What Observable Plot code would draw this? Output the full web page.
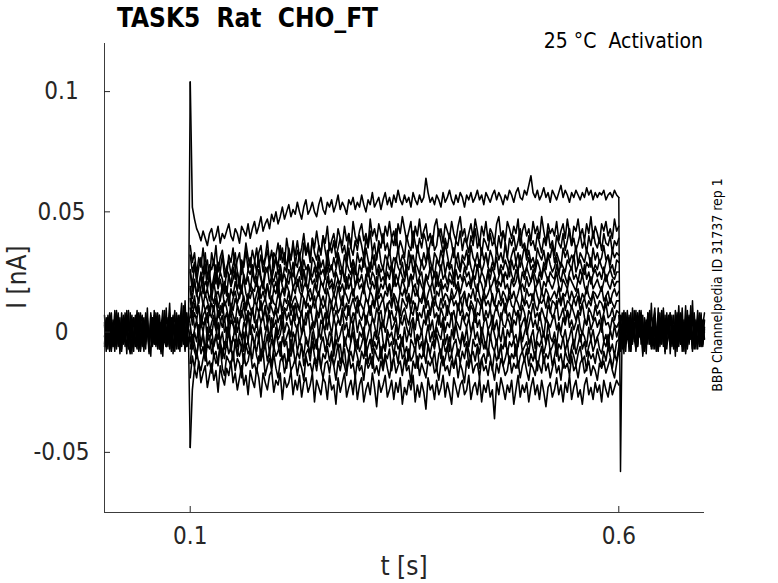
<!DOCTYPE html>
<html>
<head>
<meta charset="utf-8">
<script src="https://cdn.jsdelivr.net/npm/d3@7"></script>
<script src="https://cdn.jsdelivr.net/npm/@observablehq/plot@0.6"></script>
<style>
  html, body { margin: 0; padding: 0; background: #fff; }
  svg text { font-family: "DejaVu Sans Condensed", "DejaVu Sans", sans-serif; font-stretch: condensed; }
</style>
</head>
<body>
<div id="chart"></div>
<script>
// ---- texts ----
const titleText = "TASK5  Rat  CHO_FT";
const noteText = "25 °C  Activation";
const sideText = "BBP Channelpedia ID 31737 rep 1";
const xLabel = "t [s]";
const yLabel = "I [nA]";
const xTicks = [0.1, 0.6];
const yTicks = [-0.05, 0, 0.05, 0.1];
const xDomain = [0, 0.7];
const yDomain = [-0.075, 0.12];
// segment time spans (s): holding, step, tail
const preSpan = [0, 0.1];
const stimSpan = [0.1, 0.6];
const postSpan = [0.6, 0.7];

// ---- current values in pA ----
// holding segment 0–0.1 s
const preA = [4,-6,7,-3,-8,5,-1,-7,6,-4, 8,-5,3,-9,5,-2,7,-6,1,9, -4,-8,4,6,-5,2,-7,8,-3,5, -6,1,7,-8,4,-4,10,-5,3,-7, 6,-2,8,-6,4,-4,11,-5,5,2, 104];
const preB = [-5,6,-2,8,-7,3,-4,9,-6,2, -8,5,-1,7,-5,-9,4,6,-3,-7, 8,2,-6,5,-4,10,-8,1,6,-5, 4,-7,7,-2,-10,5,2,-6,8,-4, 1,9,-7,4,-5,7,-2,13,-6,-3, -48];
const preC = [7,-4,1,-8,5,-6,8,2,-5,6, -7,4,-2,9,-6,1,5,-8,7,-4, 3,-7,6,-5,8,1,-9,4,-2,7, -5,5,-7,2,9,-4,-6,6,1,-8, 5,-2,7,-7,4,12,-5,2,-6,8, 3];
const preD = [-2,5,-7,4,8,-5,2,-6,6,-9, 1,7,-4,5,-7,8,-2,-5,6,2, -8,4,7,-6,1,5,-4,-10,6,2, -5,8,-2,4,-7,6,-6,1,12,-4, 5,-8,2,7,-5,-2,6,-7,8,1, -4];
const preE = [3,-8,6,-2,4,-6,9,-3,1,-7, 5,-4,8,-1,-6,3,-9,6,2,-5, 7,-3,0,-8,5,3,-6,7,-2,-5, 8,-1,-7,4,-3,9,-6,2,-4,6, -9,3,5,-3,7,-6,1,-8,4,-5, 0];
const preF = [-6,2,-3,7,-5,4,-8,3,8,-2, -4,6,-6,2,9,-7,3,-1,-6,5, -2,8,-5,1,-7,6,-3,4,-6,9, -1,-4,3,-9,6,0,-3,5,-7,2, 7,-5,-1,4,-8,5,-3,9,-2,-6, 1];

// step segment 0.1–0.6 s, one array per sweep
const s01 = [104,52,47,43,41,38,42,39,36,41, 43,38,40,44,37,41,39,42,45,40, 38,43,41,37,44,42,40,45,39,43, 46,41,44,48,42,45,47,43,49,46,
 50,45,48,52,47,50,53,48,51,49, 54,50,47,52,55,49,51,54,50,48, 53,56,51,49,54,52,55,50,53,57, 51,54,52,49,55,53,56,51,54,52,
 57,53,50,55,53,58,52,54,56,51, 55,58,53,56,52,57,54,59,55,53, 57,54,56,52,58,55,53,57,54,56, 64,58,54,56,53,57,55,52,58,54,
 56,59,55,53,57,54,58,56,52,57, 55,58,54,56,59,55,57,53,58,56, 54,57,59,55,58,56,53,57,55,59, 57,54,58,60,56,55,59,57,61,65,
 58,56,59,55,57,60,56,58,54,59, 57,55,58,61,56,59,57,54,58,56, 59,57,55,58,56,60,57,59,55,58, 56,58,57,59,55,57,58,56,59,57, 56];
const s02 = [36,29,33,24,31,27,35,26,30,22, 33,28,36,25,31,34,27,23,32,29, 35,26,30,33,24,29,37,31,27,34, 30,25,33,36,28,31,38,29,34,27,
 32,37,30,35,28,39,33,30,36,32, 38,31,35,41,33,37,30,39,35,42, 36,33,40,37,44,34,38,41,35,43, 39,36,44,38,41,35,46,40,37,42,
 45,38,41,36,47,40,43,38,45,41, 37,44,40,46,39,42,36,45,41,48, 43,38,42,46,35,44,40,47,39,42, 45,38,41,36,44,47,40,43,37,45,
 42,39,46,41,38,44,48,40,43,37, 41,45,39,47,42,36,44,40,46,38, 43,41,37,45,48,40,42,38,46,43, 39,44,41,47,36,42,45,40,43,38,
 46,41,44,39,48,42,37,45,41,43, 40,46,38,42,45,39,47,41,36,44, 42,47,40,43,38,45,41,48,39,44, 41,37,45,42,46,40,43,39,47,42, 44];
const s03 = [32,25,29,21,27,31,24,33,22,28, 26,30,20,29,25,32,23,27,30,24, 28,33,25,21,30,27,34,26,31,24, 29,35,27,32,25,30,34,28,23,33,
 31,27,36,29,33,26,35,30,38,28, 34,31,27,37,32,35,29,39,33,30, 36,32,40,34,29,37,33,38,31,35, 39,33,36,30,41,35,32,38,34,40,
 36,31,39,35,42,33,37,30,38,35, 41,34,37,32,39,36,43,33,38,35, 31,40,36,34,42,37,33,39,35,41, 38,32,37,40,34,36,43,38,33,39,
 35,41,37,31,38,36,42,34,39,37, 33,40,36,43,35,38,32,39,37,34, 41,36,38,33,40,35,42,37,31,39, 36,40,34,38,43,35,37,32,40,36,
 38,34,41,37,33,39,36,42,35,38, 32,40,37,35,41,34,38,43,36,39, 34,37,41,35,38,33,40,36,42,37, 35,39,34,41,37,36,40,33,38,36, 39];
const s04 = [26,19,28,22,17,25,21,27,18,24, 18,23,28,20,25,22,17,26,24,19, 27,22,25,18,29,23,20,26,24,28, 21,25,30,23,19,27,25,29,22,26,
 31,24,28,21,27,25,32,26,23,29, 27,33,24,30,26,28,22,31,29,25, 32,27,30,24,34,28,26,31,27,33, 29,25,32,28,35,27,30,24,33,29,
 31,27,35,30,25,33,28,31,36,29, 26,32,30,34,27,31,29,35,28,32, 30,25,34,29,32,27,36,31,28,33, 29,35,30,26,33,31,28,34,30,37,
 32,27,31,35,29,33,26,32,30,34, 28,36,31,29,33,27,35,30,32,28, 34,31,26,35,30,33,29,37,31,28, 32,35,29,33,27,31,36,30,34,29,
 31,27,35,32,30,34,28,33,31,36, 29,33,30,27,35,31,34,29,32,30, 36,28,33,31,29,34,32,27,35,30, 33,29,31,36,30,32,28,34,31,33, 32];
const s05 = [25,17,22,15,20,24,16,21,19,23, 14,20,25,18,22,17,21,15,24,19, 22,26,18,21,16,24,20,23,17,25, 21,19,26,22,18,24,27,20,23,21,
 25,19,28,22,24,20,26,23,29,21, 24,27,22,26,19,28,25,23,27,21, 29,24,26,22,30,25,28,23,26,31, 24,27,21,29,26,24,30,27,22,28,
 25,31,27,23,29,26,32,24,28,25, 27,22,30,26,28,24,31,27,25,29, 23,28,26,32,25,29,27,24,30,26, 28,33,25,27,23,30,28,26,31,24,
 29,26,28,22,31,27,25,30,28,26, 32,27,24,29,26,30,25,28,33,27, 25,29,27,31,24,28,26,30,27,23, 30,26,29,25,32,28,24,27,31,26,
 28,25,30,27,23,29,26,32,28,25, 27,31,24,29,27,25,30,28,26,32, 25,28,30,26,24,29,27,31,25,28, 26,30,27,25,29,32,26,28,24,30, 29];
const s06 = [19,14,21,16,12,19,22,15,18,13, 18,21,15,17,13,20,16,19,11,18, 15,21,17,14,19,22,16,13,20,18, 17,23,15,19,21,16,20,14,22,18,
 21,16,24,19,17,22,20,25,18,21, 19,23,17,26,21,18,24,20,22,17, 25,21,19,23,27,20,22,18,25,22, 20,26,23,18,24,21,27,19,23,21,
 24,19,22,27,20,25,23,18,26,21, 23,20,25,22,28,19,24,21,26,23, 21,26,19,24,22,27,20,23,25,18, 24,22,27,21,25,19,23,28,22,24,
 20,25,23,19,26,22,24,21,27,23, 25,20,24,22,28,21,25,23,19,26, 22,27,24,20,23,26,21,25,22,28, 24,21,26,23,19,25,22,27,24,21,
 26,23,20,25,22,27,24,21,25,23, 22,28,24,21,26,23,20,25,27,22, 24,21,26,23,28,22,25,20,24,26, 23,25,22,27,21,24,26,23,22,25, 25];
const s07 = [18,10,15,8,14,17,11,16,13,9, 15,12,17,10,14,18,11,13,16,9, 14,17,12,15,19,13,11,16,14,18, 12,16,19,14,17,13,20,15,12,18,
 16,21,14,18,15,20,17,13,19,16, 22,17,15,19,21,16,18,14,20,17, 15,21,19,16,23,18,20,15,19,22, 17,20,16,23,18,21,15,19,22,18,
 20,16,24,19,17,21,18,23,16,20, 18,22,17,20,15,24,19,21,17,22, 19,16,21,24,18,20,15,22,19,17, 23,20,18,21,16,25,19,22,18,20,
 17,22,20,24,18,21,16,20,23,19, 21,18,24,19,17,22,20,16,21,25, 18,20,23,17,21,19,24,18,20,16, 22,19,21,25,18,20,17,23,19,21,
 24,18,20,22,16,21,19,23,20,18, 21,25,19,17,22,20,18,23,21,19, 17,22,20,24,19,16,21,23,18,20, 22,19,17,21,24,20,18,22,19,21, 21];
const s08 = [14,6,12,8,10,4,13,9,11,7, 12,9,14,6,11,8,13,10,5,12, 9,14,11,7,12,15,9,13,10,8, 13,11,16,9,12,14,10,8,15,12,
 11,16,13,9,14,12,17,10,13,15, 12,9,16,14,11,17,13,15,10,14, 17,12,15,11,18,14,12,16,13,19, 14,11,17,15,12,16,18,13,15,11,
 16,19,14,12,17,15,11,18,14,16, 13,17,15,20,12,16,14,11,17,15, 18,13,16,12,19,15,17,13,14,18, 12,16,19,14,11,17,15,20,13,16,
 15,12,18,14,16,19,13,15,17,11, 16,14,18,13,20,15,12,17,14,16, 19,14,11,16,18,13,17,15,12,18, 14,17,13,16,20,14,12,18,15,16,
 13,19,15,12,17,14,18,16,13,15, 17,14,19,12,16,15,18,13,17,14, 15,18,12,16,14,19,15,13,17,16, 14,16,19,13,15,17,12,16,18,15, 17];
const s09 = [10,3,8,5,11,2,7,9,4,8, 6,11,3,9,7,12,5,8,2,10, 7,4,11,8,6,12,5,9,7,10, 4,11,8,13,6,9,5,12,10,7,
 11,8,14,6,10,9,13,7,11,5, 12,9,7,14,10,12,8,11,15,9, 7,13,10,12,6,14,11,9,13,8, 10,15,9,12,7,11,14,10,8,13,
 11,9,14,12,7,13,10,16,9,12, 14,8,11,13,10,15,9,12,7,14, 12,10,15,8,13,11,9,14,12,16, 10,13,8,12,15,11,9,14,10,13,
 7,12,15,11,13,9,14,10,16,12, 9,13,11,8,14,12,10,15,11,13, 10,16,12,9,13,11,14,8,12,15, 11,10,14,12,9,15,11,13,10,12,
 16,11,9,13,12,14,10,15,8,13, 12,10,14,11,16,9,13,12,10,14, 11,15,9,12,14,10,13,11,16,12, 10,13,12,9,15,11,14,12,10,13, 13];
const s10 = [6,9,2,4,-1,7,3,5,8,0, 4,7,1,9,5,2,6,-2,5,8, 3,6,0,4,9,6,1,7,3,10, 5,2,8,4,6,11,3,7,0,6,
 9,4,7,2,10,5,8,3,6,12, 7,4,9,2,8,6,11,5,3,9, 6,10,4,8,1,7,12,5,9,6, 3,10,7,5,11,4,8,6,13,7,
 5,9,3,8,11,6,4,10,7,9, 2,8,12,6,9,5,7,11,4,8, 10,6,3,9,7,12,5,8,6,11, 4,9,7,13,6,8,3,10,7,5,
 11,8,6,9,4,12,7,10,5,8, 6,11,9,4,8,7,13,5,9,6, 10,3,8,11,7,5,9,12,6,8, 4,10,7,9,5,11,8,3,9,7,
 12,6,8,5,10,7,4,11,9,6, 8,13,5,7,10,4,9,6,11,8, 5,9,7,12,6,3,10,8,5,11, 7,9,4,8,12,6,7,10,5,9, 8];
const s11 = [3,-4,1,5,-2,4,0,6,-3,2, -1,5,1,-3,4,7,0,2,-2,5, 3,-1,6,1,-3,4,2,8,-1,3, 0,5,-2,4,7,1,3,-3,6,2,
 5,-1,3,8,0,4,2,-2,7,3, 1,6,-1,5,3,9,0,4,2,7, -2,5,3,1,8,4,-1,6,2,5, 3,9,1,4,-2,6,3,8,0,5,
 2,-1,7,4,1,6,3,-2,8,2, 5,0,4,9,1,3,6,-1,5,3, 7,2,-1,4,6,1,8,3,0,5, 3,9,1,5,-2,4,7,2,6,0,
 4,2,8,-1,5,3,1,7,4,2, 6,0,3,9,2,5,-2,4,6,1, 3,7,1,5,-1,8,3,2,6,4, 0,5,3,9,1,4,6,-1,3,7,
 2,5,1,8,3,-2,6,4,2,5, 7,1,4,0,6,3,9,2,5,1, 4,8,2,-1,5,3,7,1,4,6, 2,5,0,7,3,4,1,6,3,2, 4];
const s12 = [-2,-7,0,-4,3,-5,-1,-8,2,-3, 1,-6,-2,4,-4,0,-7,-1,2,-5, -3,3,-6,0,-2,-8,1,-4,4,-2, -5,0,-3,2,-7,-1,3,-4,0,-6,
 2,-3,-1,4,-5,-2,1,-8,0,-3, 3,-5,-1,2,-4,-6,0,3,-2,-7, 1,-3,4,-1,-5,0,-2,-8,2,-4, -1,3,-6,-2,1,-4,4,-3,-7,0,
 -2,2,-5,-1,3,-6,0,-3,-1,4, -4,-7,1,-2,0,-5,3,-3,-1,-6, 2,-4,0,-2,5,-5,-1,-3,1,-7, -2,3,-4,0,-6,2,-1,-3,4,-5,
 -1,-8,1,-3,3,-2,-5,0,-4,2, -6,-1,4,-3,0,-5,2,-2,-7,1, -3,3,-1,-5,0,-4,2,-6,1,-2, 4,-3,-1,-6,2,-4,0,3,-5,-2,
 1,-7,-1,2,-3,0,-5,4,-2,-4, 0,-6,3,-1,-3,1,-5,-2,2,-7, -1,3,-4,0,-2,-6,2,-3,1,-5, -2,0,4,-4,-1,-6,1,-3,3,-2, 1];
const s13 = [-7,-1,-5,-10,-3,-6,0,-8,-4,-2, -9,-5,-1,-7,-3,-11,-4,-6,1,-8, -2,-5,-10,-3,-7,0,-6,-4,-9,-1, -5,-8,-2,-11,-4,-6,-1,-9,-3,-7,
 0,-5,-10,-2,-6,-4,-12,-3,-7,-1, -8,-4,-6,-10,-2,-5,-9,0,-7,-3, -11,-5,-2,-8,-4,-6,-1,-10,-3,-7, -5,-12,-2,-6,-9,-4,0,-7,-3,-8,
 -5,-1,-10,-6,-3,-9,-4,-7,-2,-11, -5,-8,-1,-6,-4,-10,-3,-7,-5,-2, -9,-6,-12,-3,-5,-8,-1,-7,-4,-10, -2,-6,-9,-4,-7,-1,-5,-11,-3,-8,
 -6,-2,-9,-5,-3,-10,-7,-1,-6,-4, -8,-12,-3,-6,-5,-9,-2,-7,-4,-10, -1,-6,-8,-3,-11,-5,-7,-2,-9,-4, -6,-3,-10,-5,-1,-8,-6,-4,-9,-2,
 -7,-11,-4,-6,-3,-9,-5,-1,-8,-6, -3,-10,-5,-7,-2,-8,-4,-12,-6,-3, -9,-5,-1,-7,-4,-10,-6,-3,-8,-5, -2,-7,-9,-4,-6,-1,-8,-5,-10,-4, -3];
const s14 = [-13,-4,-8,-11,-2,-9,-6,-12,-5,-7, -3,-10,-8,-14,-5,-7,-11,-4,-9,-6, -12,-3,-8,-10,-6,-13,-5,-9,-7,-11, -4,-10,-13,-7,-9,-5,-12,-8,-14,-6,
 -10,-8,-4,-12,-9,-15,-7,-10,-6,-13, -8,-11,-5,-14,-9,-7,-12,-4,-10,-13, -7,-15,-9,-11,-6,-12,-8,-14,-10,-5, -13,-9,-7,-16,-11,-8,-12,-6,-10,-14,
 -8,-11,-5,-13,-9,-15,-7,-10,-12,-6, -14,-9,-11,-7,-16,-10,-8,-13,-5,-11, -9,-14,-7,-12,-10,-6,-15,-9,-11,-8, -13,-5,-10,-12,-8,-16,-9,-7,-14,-11,
 -6,-12,-9,-15,-10,-7,-13,-8,-11,-5, -14,-10,-8,-12,-6,-15,-11,-9,-13,-7, -10,-16,-8,-12,-9,-6,-14,-11,-7,-13, -9,-11,-5,-15,-10,-8,-12,-7,-14,-9,
 -12,-8,-16,-10,-6,-13,-9,-11,-7,-14, -10,-5,-12,-9,-15,-8,-11,-13,-7,-10, -14,-9,-6,-12,-10,-16,-8,-11,-9,-13, -7,-11,-14,-8,-12,-6,-10,-15,-9,-12, -6];
const s15 = [-19,-10,-15,-8,-13,-16,-11,-7,-14,-12, -17,-9,-13,-11,-6,-15,-18,-10,-12,-14, -8,-16,-11,-13,-19,-9,-14,-12,-7,-15, -13,-17,-10,-12,-8,-18,-14,-11,-16,-9,
 -15,-19,-12,-10,-17,-13,-8,-16,-14,-11, -18,-12,-15,-20,-10,-14,-13,-17,-11,-16, -9,-15,-19,-13,-12,-17,-10,-14,-20,-12, -16,-11,-14,-18,-9,-15,-13,-19,-12,-16,
 -14,-20,-11,-15,-13,-10,-17,-14,-18,-12, -16,-10,-15,-19,-13,-11,-17,-14,-12,-18, -11,-16,-14,-21,-12,-15,-10,-18,-13,-16, -19,-12,-14,-11,-17,-15,-20,-13,-10,-16,
 -14,-18,-12,-15,-11,-19,-13,-16,-21,-12, -15,-10,-17,-14,-13,-19,-11,-16,-14,-18, -12,-15,-20,-13,-17,-11,-14,-18,-16,-10, -17,-13,-15,-12,-19,-14,-11,-16,-20,-13,
 -15,-18,-12,-14,-17,-10,-16,-13,-19,-15, -11,-17,-14,-20,-12,-15,-13,-18,-10,-16, -14,-19,-13,-11,-17,-15,-12,-18,-14,-16, -20,-13,-15,-12,-17,-14,-11,-16,-19,-13, -8];
const s16 = [-48,-24,-15,-19,-12,-21,-17,-14,-23,-18, -13,-20,-16,-25,-14,-19,-22,-15,-18,-12, -21,-17,-24,-19,-14,-22,-18,-26,-16,-20, -23,-15,-19,-27,-17,-21,-24,-18,-16,-25,
 -20,-22,-17,-28,-19,-23,-21,-16,-26,-20, -24,-18,-27,-21,-19,-25,-22,-17,-29,-20, -23,-26,-19,-21,-28,-18,-24,-22,-30,-19, -25,-21,-17,-27,-23,-20,-26,-18,-28,-22,
 -19,-29,-24,-21,-26,-17,-23,-31,-20,-25, -22,-18,-27,-24,-20,-28,-21,-25,-19,-30, -23,-26,-20,-24,-18,-29,-22,-27,-21,-25, -32,-19,-24,-22,-28,-20,-26,-23,-18,-27,
 -21,-25,-30,-19,-23,-27,-22,-20,-26,-24, -18,-28,-23,-21,-26,-19,-29,-22,-25,-20, -27,-24,-36,-21,-26,-19,-23,-28,-22,-25, -20,-30,-24,-18,-27,-22,-25,-21,-29,-23,
 -19,-26,-22,-28,-20,-25,-31,-23,-21,-27, -24,-19,-26,-22,-29,-21,-25,-18,-28,-23, -20,-27,-24,-30,-22,-19,-26,-23,-28,-21, -25,-22,-29,-20,-24,-27,-21,-26,-23,-20, -22];

// tail segment 0.6–0.7 s
const postA = [56,-58,5,-6,8,-3,2,-8,6,-2, 7,-5,1,9,-7,3,-4,8,-2,-6, 4,10,-3,-8,2,6,-5,7,-7,1, 8,-3,-6,5,-2,11,-5,3,-8,6, 1,-4,7,-7,5,-2,9,-6,3,-5, 5];
const postB = [-6,7,-3,9,-8,2,6,-5,10,-2, -7,5,0,8,-6,3,-9,7,-3,12, -5,2,-8,6,1,-4,9,-7,4,-2, 8,-6,3,-10,7,0,-5,6,-3,11, -7,2,5,-8,8,-2,-5,7,-6,3, 8];
const postC = [4,-8,2,8,-5,-2,7,-7,3,-4, 9,-6,1,6,-9,4,-2,8,-5,2, -7,7,-3,10,-6,1,5,-8,8,-2, -5,3,-7,9,2,-6,6,-3,1,-8, 7,-2,11,-5,3,-7,6,-4,8,-6, 2];
const postD = [-3,6,-7,3,1,9,-5,-8,5,2, -6,8,-2,3,-10,6,1,-5,7,-7, 3,8,-3,-6,5,-2,10,-8,2,6, -5,1,7,-7,3,-4,8,-6,5,-9, 2,7,-3,13,-5,1,-7,6,-2,5, -3];
const postE = [7,-4,3,-9,6,-1,-6,8,-3,4, -8,2,9,-5,1,-7,5,-2,7,-6, -1,6,-8,3,-4,9,-6,2,-3,7, -9,4,1,-6,8,-2,5,-8,3,-4, 9,-5,2,-7,6,-1,-4,8,-6,3, 0];
const postF = [-7,3,8,-4,-1,6,-8,4,-5,9, 2,-6,5,-3,7,-8,3,-1,9,-4, 6,-7,2,-2,8,-5,4,-9,5,1, -3,7,-6,2,-8,6,-1,10,-5,3, -6,4,-2,8,-7,5,1,-5,7,-3, 1];

const preSweeps = [preA, preB, preC, preD, preE, preF];
const stimSweeps = [s01,s02,s03,s04,s05,s06,s07,s08,s09,s10,s11,s12,s13,s14,s15,s16];
const postSweeps = [postA, postB, postC, postD, postE, postF];

// ---- build table (uniform sampling across each segment) ----
const rows = [];
function addSegment(list, span, tag) {
  list.forEach((arr, k) => {
    const n = arr.length;
    arr.forEach((v, i) => {
      rows.push({ s: tag + k, seg: tag, t: span[0] + (span[1] - span[0]) * i / (n - 1), pA: v });
    });
  });
}
addSegment(preSweeps, preSpan, "pre");
addSegment(stimSweeps, stimSpan, "stim");
addSegment(postSweeps, postSpan, "post");

const axisColor = "#262626";
const fmt = d => String(d);
const F = '"DejaVu Sans Condensed","DejaVu Sans",sans-serif';

const plot = Plot.plot({
  width: 778,
  height: 583,
  marginTop: 43,
  marginRight: 74,
  marginBottom: 71,
  marginLeft: 104,
  style: { background: "#fff", fontFamily: F, color: axisColor, overflow: "visible" },
  x: { domain: xDomain },
  y: { domain: yDomain },
  marks: [
    Plot.line(rows.filter(d => d.seg !== "stim"), { x: "t", y: d => d.pA / 1000, z: "s", stroke: "#000", strokeWidth: 1.5 }),
    Plot.line(rows.filter(d => d.seg === "stim"), { x: "t", y: d => d.pA / 1000, z: "s", stroke: "#000", strokeWidth: 1.6 }),
    Plot.ruleY([yDomain[0]], { stroke: axisColor, strokeWidth: 0.9 }),
    Plot.ruleX([xDomain[0]], { stroke: axisColor, strokeWidth: 0.9 }),
    Plot.axisX({ ticks: xTicks, tickFormat: fmt, tickSize: -6, tickPadding: 20, fontSize: 24, stroke: axisColor, fill: axisColor, label: null }),
    Plot.axisY({ ticks: yTicks, tickFormat: fmt, tickSize: -6, tickPadding: 49, textAnchor: "middle", fontSize: 24, stroke: axisColor, fill: axisColor, label: null })
  ]
});

const svg = d3.select(plot);
svg.append("text").text(titleText)
  .attr("x", 117).attr("y", 27).attr("font-size", 26).attr("font-weight", "bold")
  .attr("text-anchor", "start")
  .attr("font-family", F).attr("fill", "#000").style("white-space", "pre");
svg.append("text").text(noteText)
  .attr("x", 703).attr("y", 48).attr("font-size", 21).attr("text-anchor", "end")
  .attr("font-family", F).attr("fill", "#000").style("white-space", "pre");
svg.append("text").text(sideText)
  .attr("transform", "translate(722,285) rotate(-90)").attr("text-anchor", "middle")
  .attr("font-size", 14).attr("font-family", F).attr("fill", "#000");
svg.append("text").text(yLabel)
  .attr("transform", "translate(26,277) rotate(-90)").attr("text-anchor", "middle")
  .attr("font-size", 26).attr("font-family", F).attr("fill", axisColor);
svg.append("text").text(xLabel)
  .attr("x", 404).attr("y", 575).attr("text-anchor", "middle")
  .attr("font-size", 26).attr("font-family", F).attr("fill", axisColor);

document.getElementById("chart").appendChild(plot);
</script>
</body>
</html>
